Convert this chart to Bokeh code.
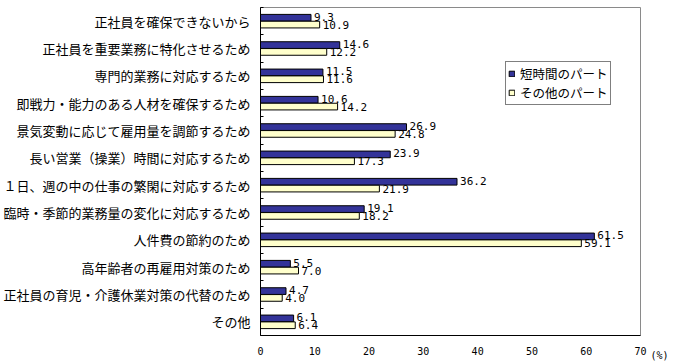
from bokeh.plotting import figure
from bokeh.models import (Range1d, FixedTicker, ColumnDataSource, Legend, LegendItem,
                          LinearAxis)
from bokeh.core.properties import value
from bokeh.embed import file_html
from bokeh.resources import INLINE

categories = [
    "正社員を確保できないから",
    "正社員を重要業務に特化させるため",
    "専門的業務に対応するため",
    "即戦力・能力のある人材を確保するため",
    "景気変動に応じて雇用量を調節するため",
    "長い営業（操業）時間に対応するため",
    "１日、週の中の仕事の繁閑に対応するため",
    "臨時・季節的業務量の変化に対応するため",
    "人件費の節約のため",
    "高年齢者の再雇用対策のため",
    "正社員の育児・介護休業対策の代替のため",
    "その他",
]
short_part = [9.3, 14.6, 11.5, 10.6, 26.9, 23.9, 36.2, 19.1, 61.5, 5.5, 4.7, 6.1]
other_part = [10.9, 12.2, 11.6, 14.2, 24.8, 17.3, 21.9, 18.2, 59.1, 7.0, 4.0, 6.4]
series_names = ["短時間のパート", "その他のパート"]
x_ticks = [0, 10, 20, 30, 40, 50, 60, 70]
unit_label = "(%)"

NAVY = "#333399"
CREAM = "#FFFFCC"
NUM_FONT = "DejaVu Sans Mono"
JP_FONT = "Noto Sans CJK JP"

n = len(categories)
idx = list(range(n))
off = 0.125
bar_h = 0.245

src_a = ColumnDataSource(dict(y=[i - off for i in idx], v=short_part,
                              t=[f"{v:.1f}" for v in short_part]))
src_b = ColumnDataSource(dict(y=[i + off for i in idx], v=other_part,
                              t=[f"{v:.1f}" for v in other_part]))

p = figure(frame_width=380, frame_height=328, output_backend="svg",
           toolbar_location=None,
           x_range=Range1d(0, 70), y_range=Range1d(n - 0.5, -0.5),
           min_border_left=258, min_border_right=43, min_border_top=7,
           min_border_bottom=26)
p.extra_y_ranges = {"unit": Range1d(0, 1)}

p.background_fill_color = "white"
p.border_fill_color = "white"
p.outline_line_color = "#8a8a8a"
p.outline_line_width = 1
p.xgrid.visible = False
p.ygrid.visible = False

ra = p.hbar(y="y", right="v", left=0, height=bar_h, source=src_a,
            fill_color=NAVY, line_color="black", line_width=1)
rb = p.hbar(y="y", right="v", left=0, height=bar_h, source=src_b,
            fill_color=CREAM, line_color="black", line_width=1)

for s, yo in ((src_a, -1), (src_b, 0)):
    p.text(x="v", y="y", text="t", source=s, x_offset=3, y_offset=yo,
           text_font=value(NUM_FONT), text_font_size="11px",
           text_baseline="middle", text_align="left", text_color="black")

# axes
p.yaxis.ticker = FixedTicker(ticks=idx, minor_ticks=[i - 0.5 for i in range(n + 1)])
p.yaxis.major_label_overrides = {i: c for i, c in enumerate(categories)}
p.yaxis.major_label_text_font = JP_FONT
p.yaxis.major_label_text_font_size = "13px"
p.yaxis.major_label_text_color = "black"
p.yaxis.major_label_standoff = 10
p.yaxis.major_tick_in = 0
p.yaxis.major_tick_out = 0
p.yaxis.minor_tick_in = 3
p.yaxis.minor_tick_out = 0
p.yaxis.axis_line_color = "black"
p.yaxis.minor_tick_line_color = "black"

p.xaxis.ticker = FixedTicker(ticks=x_ticks)
p.xaxis.major_label_text_font = NUM_FONT
p.xaxis.major_label_text_font_size = "10px"
p.xaxis.major_label_text_color = "black"
p.xaxis.major_label_standoff = 11
p.xaxis.major_tick_in = 0
p.xaxis.major_tick_out = 0
p.xaxis.minor_tick_line_color = None
p.xaxis.axis_line_color = "black"

# unit label "(%)" to the right of the x axis, via an unlined right axis
unit_axis = LinearAxis(y_range_name="unit", ticker=FixedTicker(ticks=[0]),
                       major_label_overrides={0: "\u00a0\n\u00a0\n\u00a0\n" + unit_label})
unit_axis.axis_line_color = None
unit_axis.major_tick_line_color = None
unit_axis.minor_tick_line_color = None
unit_axis.major_label_standoff = 4
unit_axis.major_label_text_font = NUM_FONT
unit_axis.major_label_text_font_size = "10px"
unit_axis.major_label_text_color = "black"
unit_axis.major_label_text_baseline = "top"
p.add_layout(unit_axis, "right")

legend = Legend(items=[LegendItem(label=series_names[0], renderers=[ra]),
                       LegendItem(label=series_names[1], renderers=[rb])],
                location=(245, 230))
legend.label_text_font = JP_FONT
legend.label_text_font_size = "12.5px"
legend.label_text_color = "black"
legend.glyph_width = 7
legend.glyph_height = 7
legend.label_standoff = 5
legend.label_height = 14
legend.spacing = 0
legend.padding = 2
legend.margin = 0
legend.border_line_color = "black"
legend.border_line_width = 1
legend.background_fill_alpha = 1
p.add_layout(legend, "center")

open("out.html", "w").write(file_html(p, INLINE))
